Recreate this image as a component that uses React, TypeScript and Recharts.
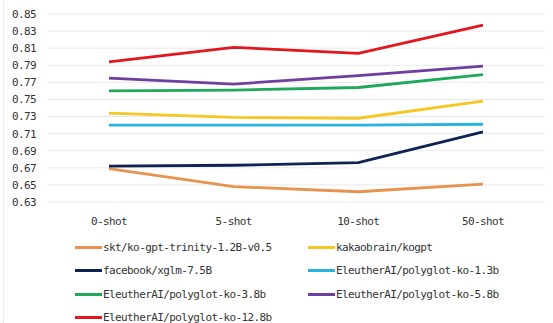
import React from 'react';
import { LineChart, Line, XAxis, YAxis, CartesianGrid, Legend } from 'recharts';

const shots = ['0-shot', '5-shot', '10-shot', '50-shot'];

const sktTrinity = [0.669, 0.648, 0.642, 0.651];
const kakaoKogpt = [0.734, 0.729, 0.728, 0.748];
const xglm = [0.672, 0.673, 0.676, 0.712];
const polyglot13 = [0.72, 0.72, 0.72, 0.721];
const polyglot38 = [0.76, 0.761, 0.764, 0.779];
const polyglot58 = [0.775, 0.768, 0.778, 0.789];
const polyglot128 = [0.794, 0.811, 0.804, 0.837];

const yTicks = [0.63, 0.65, 0.67, 0.69, 0.71, 0.73, 0.75, 0.77, 0.79, 0.81, 0.83, 0.85];

const series = [
  { key: 'skt', name: 'skt/ko-gpt-trinity-1.2B-v0.5', values: sktTrinity, color: '#E8924F' },
  { key: 'kakao', name: 'kakaobrain/kogpt', values: kakaoKogpt, color: '#F6C623' },
  { key: 'xglm', name: 'facebook/xglm-7.5B', values: xglm, color: '#0E2352' },
  { key: 'p13', name: 'EleutherAI/polyglot-ko-1.3b', values: polyglot13, color: '#2AB2E0' },
  { key: 'p38', name: 'EleutherAI/polyglot-ko-3.8b', values: polyglot38, color: '#1FA85B' },
  { key: 'p58', name: 'EleutherAI/polyglot-ko-5.8b', values: polyglot58, color: '#6E3FA0' },
  { key: 'p128', name: 'EleutherAI/polyglot-ko-12.8b', values: polyglot128, color: '#E3161D' },
];

const data = shots.map((shot, i) => {
  const row: Record<string, string | number> = { shot };
  series.forEach((s) => {
    row[s.key] = s.values[i];
  });
  return row;
});

const FONT = '"DejaVu Sans Mono", monospace';

// two-column legend, icon glued to the label like the original
const LegendBox = () => (
  <div
    style={{
      display: 'grid',
      gridTemplateColumns: '233px 220px',
      paddingLeft: 75,
      paddingTop: 3,
      height: 90,
      boxSizing: 'border-box',
      fontFamily: FONT,
      fontSize: 11,
      letterSpacing: -0.6,
      color: '#333',
    }}
  >
    {series.map((s) => (
      <div key={s.key} style={{ display: 'flex', alignItems: 'center', height: 23.3 }}>
        <span style={{ display: 'inline-block', width: 27, height: 3, background: s.color, marginRight: 1 }} />
        <span>{s.name}</span>
      </div>
    ))}
  </div>
);

export default function App() {
  return (
    <div style={{ position: 'absolute', top: 0, left: 0, width: 553, height: 323, background: '#fff' }}>
      <div style={{ position: 'absolute', left: 3, top: 0, height: 323, borderLeft: '1px dotted #ddd' }} />
      <LineChart
        width={553}
        height={323}
        data={data}
        margin={{ top: 14, right: 8, bottom: 0, left: 0 }}
        style={{ fontFamily: FONT, letterSpacing: -0.6 }}
      >
        <CartesianGrid vertical={false} stroke="#e9e9e9" />
        <XAxis
          dataKey="shot"
          padding={{ left: 62, right: 62 }}
          axisLine={false}
          tickLine={false}
          height={31}
          tickMargin={9}
          tick={{ fill: '#333', fontSize: 11 }}
        />
        <YAxis
          domain={[0.63, 0.85]}
          ticks={yTicks}
          interval={0}
          axisLine={false}
          tickLine={false}
          width={47}
          tickMargin={5}
          tickFormatter={(v: number) => v.toFixed(2)}
          tick={{ fill: '#333', fontSize: 11 }}
        />
        <Legend verticalAlign="bottom" align="left" content={<LegendBox />} />
        {series.map((s) => (
          <Line
            key={s.key}
            dataKey={s.key}
            name={s.name}
            stroke={s.color}
            strokeWidth={2.8}
            dot={false}
            activeDot={false}
            isAnimationActive={false}
          />
        ))}
      </LineChart>
    </div>
  );
}
